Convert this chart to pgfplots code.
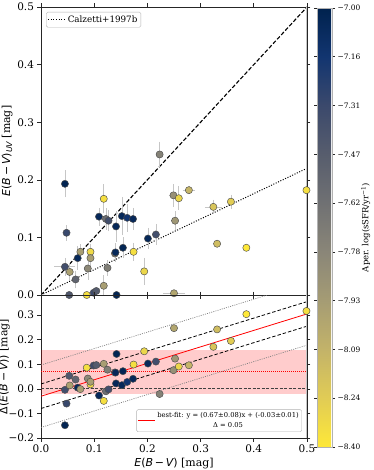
\documentclass[border=0pt]{standalone}
\usepackage{fontspec}
\setmainfont{DejaVu Serif}
\newfontfamily\dvs{DejaVu Sans}
\usepackage{pgfplots}
\pgfplotsset{compat=1.18}
\usepackage{pgfplotstable}

% reversed cividis
\pgfplotsset{colormap={civr}{rgb255=(254,232,56) rgb255=(225,204,85) rgb255=(195,179,105) rgb255=(165,156,116) rgb255=(138,134,120) rgb255=(112,113,115) rgb255=(87,93,109) rgb255=(59,73,108) rgb255=(18,53,112) rgb255=(0,34,78)}}

\newcommand{\mi}[1]{{\dvs\itshape #1}}
\newcommand{\ebv}{\mi{E}{\dvs(}\mi{B}{\dvs\,−\,}\mi{V}{\dvs)}}

% x: E(B-V), y: E(B-V)_UV, ex/ey: errors, d: x-y, c: aperture log sSFR
\pgfplotstableread{
x     y     ex    ey    d      c
0.045 0.193 0     0.020 -0.148 -7.02
0.048 0.108 0     0.010 -0.060 -7.30
0.045 0.049 0.016 0.012 -0.004 -7.35
0.054 0.040 0     0.012  0.014 -7.97
0.053 0.000 0     0      0.053 -7.42
0.065 0.027 0     0.012  0.038 -7.52
0.069 0.064 0     0.017  0.005 -7.05
0.074 0.075 0     0.010 -0.001 -7.95
0.088 0.046 0     0.016  0.042 -7.80
0.093 0.075 0     0.010  0.018 -8.32
0.093 0.064 0     0.010  0.029 -7.95
0.086 0.000 0     0      0.086 -8.35
0.099 0.004 0     0      0.095 -7.32
0.104 0.007 0     0      0.097 -7.45
0.109 0.136 0     0.012 -0.027 -7.05
0.118 0.167 0     0.022 -0.049 -8.35
0.118 0.016 0     0.015  0.102 -7.95
0.122 0.132 0     0.015 -0.010 -7.60
0.125 0.047 0     0.010  0.078 -7.72
0.127 0.129 0     0.015 -0.002 -7.35
0.139 0.072 0     0.010  0.067 -7.80
0.140 0.074 0     0.013  0.066 -7.05
0.141 0.119 0     0.023  0.022 -7.05
0.142 0.000 0     0      0.142 -7.02
0.152 0.137 0     0.030  0.015 -7.05
0.154 0.082 0     0.015  0.072 -7.03
0.162 0.134 0     0.021  0.028 -7.15
0.173 0.132 0     0.016  0.041 -7.05
0.174 0.075 0     0.012  0.099 -8.35
0.194 0.041 0     0.020  0.153 -8.30
0.201 0.098 0     0.015  0.103 -7.05
0.216 0.105 0     0.015  0.111 -7.35
0.223 0.244 0     0.019 -0.021 -7.75
0.249 0.173 0.005 0.016  0.076 -7.85
0.252 0.129 0     0.013  0.123 -7.90
0.250 0.003 0.017 0      0.247 -8.00
0.259 0.168 0     0.017  0.091 -8.30
0.278 0.182 0.008 0.004  0.096 -8.10
0.324 0.153 0.012 0.009  0.171 -8.20
0.331 0.089 0     0      0.242 -8.15
0.357 0.162 0     0.009  0.195 -8.25
0.386 0.082 0     0      0.304 -8.40
0.499 0.182 0     0.014  0.317 -8.35
}\pts

\pgfplotsset{
  every axis/.append style={
    scale only axis,
    xmin=0, xmax=0.5,
    tick align=outside,
    major tick length=3.5bp,
    axis line style={black!85},
    tick style={black!85, line width=0.6bp},
    ticklabel style={font=\fontsize{10.5}{12}\selectfont},
    label style={font=\fontsize{11}{13}\selectfont},
    colormap name=civr,
    point meta min=-8.4, point meta max=-7.0,
  },
  ptstyle/.style={
    scatter, only marks, mark=*, mark size=3.6bp, line width=0.45bp,
    point meta=explicit,
    scatter/use mapped color={draw=black!70, fill=mapped color},
  },
}

\begin{document}
\begin{tikzpicture}
\begin{axis}[
    name=top,
    at={(0,0)}, anchor=north west,
    width=266bp, height=288bp,
    ymin=0, ymax=0.5,
    xtick={0,0.1,0.2,0.3,0.4,0.5}, xticklabels={},
    ytick={0,0.1,0.2,0.3,0.4,0.5},
    yticklabels={0.0,0.1,0.2,0.3,0.4,0.5},
    ylabel={\ebv\raisebox{-0.35ex}{\fontsize{8}{9}\selectfont\mi{UV}} [mag]},
    ylabel style={yshift=-2bp},
    legend style={at={(0.019,0.983)}, anchor=north west,
      font=\fontsize{8.8}{10}\selectfont, draw=gray!60, rounded corners=1.5pt,
      inner sep=1.5bp},
    legend cell align=left,
    colorbar,
    colorbar style={
      at={(parent axis.north east)}, anchor=north west,
      xshift=1.5bp, yshift=-1bp,
      scale only axis, width=15bp, height=439bp,
      ytick={-8.4,-8.24444,-8.08889,-7.93333,-7.77778,-7.62222,-7.46667,-7.31111,-7.15556,-7.0},
      yticklabels={−8.40,−8.24,−8.09,−7.93,−7.78,−7.62,−7.47,−7.31,−7.16,−7.00},
      yticklabel style={font=\fontsize{7.5}{9}\selectfont, xshift=-1bp},
      ylabel={Aper. log(sSFR/yr\textsuperscript{−1})},
      ylabel style={font=\fontsize{8.5}{10}\selectfont},
      ylabel shift=-6bp,
      axis line style={gray!60},
      major tick length=3bp,
    },
  ]
  \addplot[black, line width=1.1bp, dash pattern=on 4bp off 2bp, forget plot]
    coordinates {(0,0) (0.5,0.5)};
  \addplot[black, line width=1bp, dash pattern=on 1bp off 1.6bp]
    coordinates {(0,0) (0.5,0.22)};
  \addlegendentry{Calzetti+1997b}
  \addplot[draw=none, mark=none, forget plot,
    error bars/.cd, x dir=both, x explicit, y dir=both, y explicit,
    error bar style={draw=gray!45, line width=0.6bp},
    error mark options={draw=gray!45, mark size=2bp, line width=0.6bp}]
    table[x=x, y=y, x error=ex, y error=ey] {\pts};
  \addplot[ptstyle, forget plot]
    table[x=x, y=y, meta=c] {\pts};
  \draw[gray!45, line width=2bp] (rel axis cs:1,0) -- (rel axis cs:1,1);
\end{axis}

\begin{axis}[
    at={(top.south west)}, anchor=north west,
    width=266bp, height=143bp,
    ymin=-0.2, ymax=0.382,
    xtick={0,0.1,0.2,0.3,0.4,0.5},
    xticklabels={0.0,0.1,0.2,0.3,0.4,0.5},
    ytick={-0.2,-0.1,0,0.1,0.2,0.3},
    yticklabels={−0.2,−0.1,0.0,0.1,0.2,0.3},
    xlabel={\ebv{} [mag]},
    ylabel={{\dvs Δ(}\ebv{\dvs)} [mag]},
    ylabel style={yshift=-2bp},
    ylabel shift=-6bp,
    xlabel style={yshift=2bp},
    legend style={at={(0.981,0.042)}, anchor=south east,
      font=\fontsize{6.8}{7.6}\selectfont, draw=gray!60, rounded corners=1.5pt,
      inner sep=1bp},
  ]
  \addplot[fill=red, fill opacity=0.2, draw=none, forget plot]
    coordinates {(0,-0.02) (0.5,-0.02) (0.5,0.16) (0,0.16)} -- cycle;
  \addplot[black!75, line width=0.8bp, dash pattern=on 3bp off 1.5bp, forget plot]
    coordinates {(0,0) (0.5,0)};
  \addplot[red, line width=1bp, dash pattern=on 1bp off 1bp, forget plot]
    coordinates {(0,0.07) (0.5,0.07)};
  \addplot[gray, line width=0.7bp, dash pattern=on 1bp off 1.2bp, forget plot]
    coordinates {(0,0.097) (0.5,0.432)};
  \addplot[gray, line width=0.7bp, dash pattern=on 1bp off 1.2bp, forget plot]
    coordinates {(0,-0.157) (0.5,0.178)};
  \addplot[black, line width=0.8bp, dash pattern=on 3.5bp off 2bp, forget plot]
    coordinates {(0,0.02) (0.5,0.355)};
  \addplot[black, line width=0.8bp, dash pattern=on 3.5bp off 2bp, forget plot]
    coordinates {(0,-0.08) (0.5,0.255)};
  \addplot[red, line width=0.8bp] coordinates {(0,-0.03) (0.5,0.305)};
  \addlegendentry{\shortstack{best-fit: y = (0.67±0.08)x + (-0.03±0.01)\\Δ = 0.05}}
  \addplot[ptstyle, forget plot] table[x=x, y=d, meta=c] {\pts};
  \draw[gray!45, line width=2bp] (rel axis cs:1,0) -- (rel axis cs:1,1);
\end{axis}
\pgfresetboundingbox
\path[use as bounding box] (-41bp,-463bp) rectangle (333bp,7bp);
\end{tikzpicture}
\end{document}
